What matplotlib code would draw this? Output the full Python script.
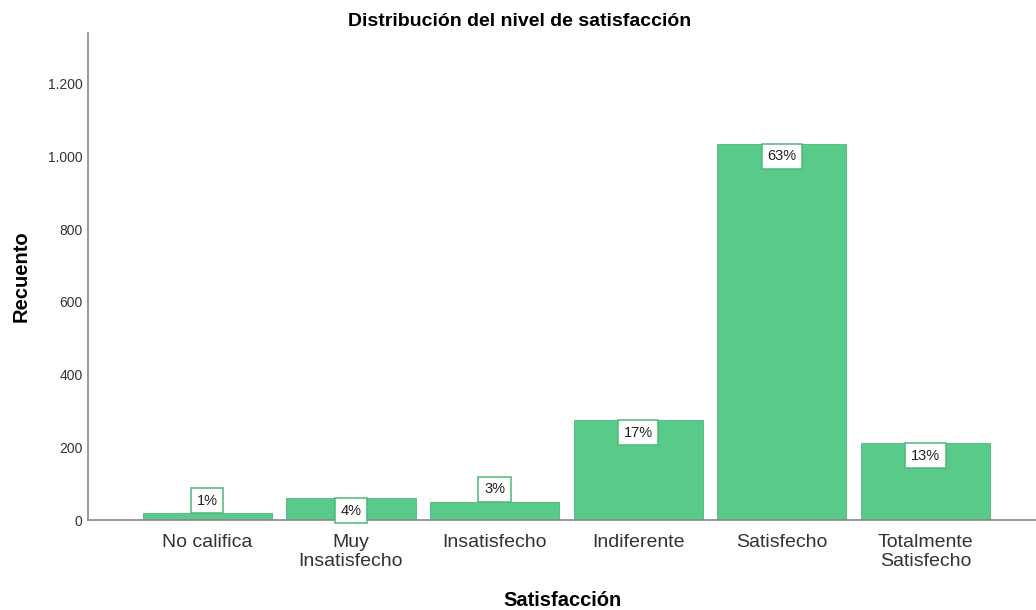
import matplotlib
matplotlib.use("Agg")
import matplotlib.pyplot as plt
from matplotlib.ticker import FuncFormatter

categories = ["No califica", "Muy\nInsatisfecho", "Insatisfecho",
              "Indiferente", "Satisfecho", "Totalmente\nSatisfecho"]
counts = [19, 60, 50, 275, 1035, 212]
pct_labels = ["1%", "4%", "3%", "17%", "63%", "13%"]
label_side = ["above", "below", "above", "below", "below", "below"]
yticks = [0, 200, 400, 600, 800, 1000, 1200]

C_BAR = "#58CA8A"
C_EDGE = "#4DB67A"
C_AXIS = "#888888"
C_TXT = "#333333"

plt.rcParams["font.family"] = ["Liberation Sans", "DejaVu Sans"]

fig = plt.figure(figsize=(10.36, 6.10), dpi=100)
ax = fig.add_axes([0.085, 0.1475, 0.915, 0.7985])

x = list(range(len(categories)))
ax.bar(x, counts, width=0.9, color=C_BAR, edgecolor=C_EDGE, linewidth=0.6, zorder=2)

for xi, v, lab, side in zip(x, counts, pct_labels, label_side):
    above = side == "above"
    ax.annotate(lab, (xi, v), xytext=(0, 4 if above else -4),
                textcoords="offset points", ha="center",
                va="bottom" if above else "top", fontsize=10.5,
                color="#222222", zorder=4,
                bbox=dict(boxstyle="square,pad=0.38", facecolor="white",
                          edgecolor=C_EDGE, linewidth=1.1))

ax.set_xlim(-0.83, 5.77)
ax.set_ylim(0, 1340)
ax.set_xticks(x)
ax.set_xticklabels(categories, fontsize=14, color=C_TXT, linespacing=1.15)
ax.set_yticks(yticks)
ax.yaxis.set_major_formatter(FuncFormatter(lambda v, p: f"{int(v):,}".replace(",", ".")))
ax.tick_params(axis="y", labelsize=10, colors=C_TXT, length=0, pad=4)
ax.tick_params(axis="x", length=0, pad=10)

for s in ("top", "right"):
    ax.spines[s].set_visible(False)
for s in ("left", "bottom"):
    ax.spines[s].set_color(C_AXIS)
    ax.spines[s].set_linewidth(1.2)

fig.suptitle("Distribución del nivel de satisfacción", fontsize=14,
             fontweight="bold", x=0.502, y=0.978, va="top")
ax.set_xlabel("Satisfacción", fontsize=14.5, fontweight="bold", labelpad=15)
ax.set_ylabel("Recuento", fontsize=14.5, fontweight="bold", labelpad=12)

fig.savefig("out.png", dpi=100)
